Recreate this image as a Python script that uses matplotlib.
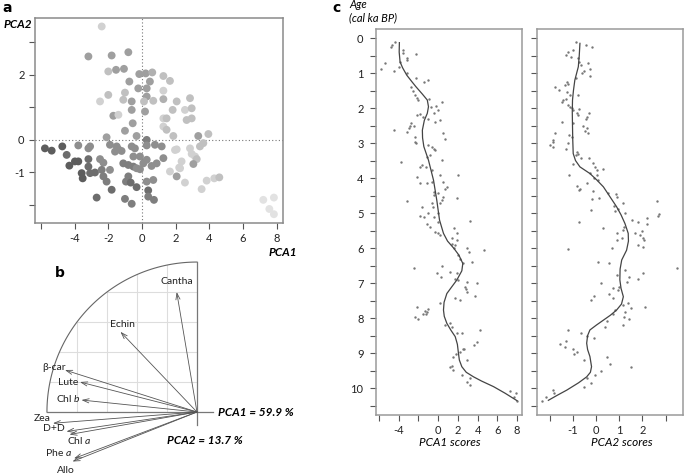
import numpy as np
import matplotlib
matplotlib.use('Agg')
import matplotlib.pyplot as plt

plt.rcParams['font.family'] = ['Lato', 'DejaVu Sans']
plt.rcParams['mathtext.fontset'] = 'custom'
plt.rcParams['mathtext.rm'] = 'Lato'
plt.rcParams['mathtext.it'] = 'Lato:italic'

# ---- panel a: sample scores (PCA1, PCA2) and age class (dark = young, light = old)
a_pca1 = [-2.39, -3.18, -1.80, -0.81, -2.00, -1.54, -1.07, -0.75, -0.16, 0.22, 0.61, 1.27, 1.66,
          0.47, -0.22, 0.28, 1.27, -1.01, -2.00, 0.28, 0.67, 1.27, 2.06, 2.85, -2.49, -1.11, -0.61,
          0.12, -0.61, 0.18, 1.82, 2.55, 2.95, -1.70, -1.40, 1.27, 1.46, 2.65, 2.95, -0.55, 1.27,
          1.46, -1.01, -0.32, -2.10, 3.34, 3.94, 1.86, 0.28, -5.76, -5.36, -4.73, -3.78, -4.47,
          -3.18, -3.08, -1.90, -1.50, -1.40, -1.21, -0.61, -0.42, 0.28, 0.77, 1.17, 2.06, 2.85,
          3.44, 3.64, 2.95, 3.15, 3.25, 3.05, 2.35, -4.31, -3.98, -3.78, -3.18, -2.49, -2.29,
          -3.18, -3.58, -3.52, -3.08, -2.79, -2.39, -2.29, -2.10, -1.90, -1.60, -1.11, -0.81,
          -0.51, -0.32, -0.12, 0.08, 0.28, 0.57, 0.87, 1.27, 1.66, 2.26, 2.06, 2.55, 3.84, 4.29,
          4.59, 3.54, -1.80, -0.95, -0.81, -0.67, -0.32, 0.28, 0.67, 0.37, -2.69, -1.01, -0.61,
          0.37, 0.71, -0.51, -0.12, 7.20, 7.83, 7.56, 7.83, 1.96, 2.21]
a_pca2 = [3.48, 2.56, 2.59, 2.69, 2.10, 2.15, 2.18, 1.79, 2.02, 2.04, 2.07, 1.96, 1.81,
          1.79, 1.58, 1.58, 1.51, 1.45, 1.38, 1.33, 1.20, 1.25, 1.18, 1.28, 1.18, 1.23, 1.18,
          1.18, 0.92, 0.87, 0.92, 0.92, 0.97, 0.74, 0.77, 0.66, 0.66, 0.61, 0.66, 0.51, 0.41,
          0.31, 0.28, 0.12, 0.08, 0.12, 0.18, 0.12, 0.00, -0.26, -0.33, -0.20, -0.17, -0.46,
          -0.26, -0.20, -0.15, -0.20, -0.29, -0.34, -0.20, -0.26, -0.17, -0.15, -0.20, -0.29, -0.26,
          -0.20, -0.10, -0.43, -0.51, -0.59, -0.74, -0.66, -0.79, -0.66, -0.66, -0.59, -0.59, -0.70,
          -0.82, -1.02, -1.18, -1.02, -1.00, -0.92, -1.12, -1.28, -0.92, -0.36, -0.72, -0.77,
          -0.82, -0.87, -0.90, -0.72, -0.61, -0.80, -0.72, -0.56, -0.97, -0.87, -1.12, -1.31, -1.25, -1.18,
          -1.15, -1.51, -1.53, -1.28, -1.12, -1.31, -1.45, -1.28, -1.23, -1.55, -1.77, -1.81, -1.96,
          -1.74, -1.84, -0.51, -0.51, -1.84, -1.77, -2.12, -2.28, -0.31, -0.85]
a_class = [8, 5, 5, 5, 7, 5, 5, 5, 5, 5, 6, 7, 7,
           5, 5, 5, 8, 7, 7, 5, 7, 6, 7, 7, 8, 7, 5,
           7, 5, 5, 7, 8, 7, 5, 8, 8, 7, 7, 7, 5, 8,
           7, 5, 5, 5, 5, 7, 7, 3, 1, 1, 1, 4, 2,
           4, 4, 4, 4, 4, 4, 4, 4, 4, 4, 4, 8, 8,
           7, 7, 8, 8, 7, 5, 8, 1, 1, 1, 2, 4, 4,
           2, 1, 1, 2, 2, 3, 3, 3, 4, 4, 3, 3,
           3, 4, 4, 4, 4, 4, 4, 4, 8, 8, 5, 8, 8, 8,
           7, 8, 2, 3, 3, 2, 2, 4, 4, 2, 2, 3, 3,
           3, 3, 4, 4, 9, 9, 9, 9, 8, 8]

# ---- panel b: variable loadings on the correlation circle
pigments = ['Cantha', 'Echin', 'β-car', 'Lute', 'Chl $\\it{b}$', 'Zea', 'D+D', 'Chl $\\it{a}$',
            'Phe $\\it{a}$', 'Allo']
load1 = [-0.135, -0.51, -0.88, -0.78, -0.77, -0.96, -0.87, -0.85, -0.82, -0.83]
load2 = [0.80, 0.535, 0.28, 0.20, 0.08, -0.075, -0.13, -0.15, -0.31, -0.33]

# ---- panel c: PCA1 scores vs age
c1_score = [-4.37, -4.70, -4.81, -3.59, -3.52, -3.18, -3.11, -2.23, -5.38, -5.82, -3.86, -3.99,
            -4.43, -3.11, -2.23, -1.42, -0.98, -2.77, -2.50, -2.33, -2.17, -2.00, -0.88, 0.37,
            -0.20, -0.71, 0.03, -2.10, -1.83, -1.49, -1.05, -0.41, 0.20, -0.30, -2.77, -2.84,
            -2.91, -2.44, -4.43, -3.18, -2.33, -2.33, 0.54, 0.71, -2.23, -0.98, -0.64, -0.47,
            -0.30, -0.81, 0.37, -1.15, -3.79, -1.83, -1.59, -1.25, -0.64, 0.14, -2.17, 2.06,
            -0.64, -1.15, -1.83, 0.54, 0.88, 0.71, -0.41, 0.03, -0.47, 0.54, 0.37, 1.90, -3.18,
            -0.64, 0.20, -0.54, -1.66, -0.98, 0.03, -1.83, -1.42, -0.47, 0.03, 3.25, -1.08, -0.81,
            1.56,
            -0.30, 0.03, 0.20, 1.90, 1.39, 1.90, 1.39, 1.73, 1.56, 2.06, 2.91, 3.08, 4.60, 2.23,
            3.42, 2.50, -2.44, 0.37, 1.22, 1.90, -0.07, 0.27, 1.73, 2.06, 2.91, 3.93, 2.74, 2.84,
            2.91, 3.76, 1.73, 2.23, 0.20, -2.10, -0.98, -1.32, -1.08, -1.49, -1.22, -2.33, -2.00,
            1.22, 0.68, 1.39, 1.90, 2.40, 4.26, 3.93, 3.59, 2.50, 2.64, 2.23, 1.83, 1.49, 2.91,
            1.39, 1.22, 1.49, 2.40, 2.91, 3.18, 3.25, 7.31, 7.92, 7.65, 7.99]
c1_age = [0.12, 0.20, 0.25, 0.34, 0.42, 0.58, 0.63, 0.46, 0.72, 0.87, 0.68, 0.82,
          0.94, 1.01, 1.13, 1.25, 1.20, 1.41, 1.50, 1.63, 1.72, 1.77, 1.75, 1.84,
          1.94, 1.98, 2.06, 2.20, 2.17, 2.25, 2.30, 2.15, 2.34, 2.39, 2.44, 2.51,
          2.58, 2.51, 2.63, 2.68, 2.82, 2.96, 2.72, 2.87, 3.01, 3.06, 3.10, 3.16,
          3.20, 3.34, 3.49, 3.39, 3.55, 3.68, 3.63, 3.68, 3.77, 3.91, 3.96, 3.91,
          4.10, 4.15, 4.13, 4.10, 4.25, 4.30, 4.39, 4.44, 4.49, 4.53, 4.63, 4.58, 4.66,
          4.70, 4.72, 4.82, 4.82, 5.01, 5.01, 5.09, 5.12, 5.10, 5.25, 5.23, 5.31, 5.39,
          5.44,
          5.53, 5.58, 5.63, 5.58, 5.72, 5.77, 5.87, 5.91, 6.01, 6.20, 6.01, 6.10, 6.06, 6.30,
          6.39, 6.44, 6.58, 6.51, 6.68, 6.72, 6.70, 6.82, 6.87, 6.91, 6.98, 7.01, 7.12, 7.18,
          7.25, 7.37, 7.42, 7.49, 7.56, 7.68, 7.74, 7.79, 7.82, 7.87, 7.89, 7.97, 8.04,
          8.15, 8.20, 8.25, 8.44, 8.44, 8.34, 8.68, 8.77, 8.87, 8.89, 8.96, 9.03, 9.10, 9.20,
          9.37, 9.41, 9.49, 9.63, 9.82, 9.91, 9.72, 10.08, 10.15, 10.25, 10.36]
c1_fit_age = [0.13, 0.40, 0.68, 0.85, 1.06, 1.25, 1.39, 1.60, 1.77, 1.96, 2.15, 2.35, 2.63, 2.85,
              3.10, 3.49, 4.06, 4.63, 5.20, 5.58, 5.80, 6.01, 6.20, 6.44, 6.65, 6.91, 7.10, 7.30,
              7.55, 7.77, 7.95, 8.15, 8.35, 8.53, 8.75, 9.01, 9.20, 9.39, 9.55, 9.68, 9.80, 9.96,
              10.15, 10.36]
c1_fit = [-3.93, -3.95, -3.86, -3.60, -3.18, -2.65, -2.25, -1.60, -1.10, -0.98, -1.10, -1.40,
          -1.60, -1.58, -1.45, -0.98, -0.47, -0.14, 0.14, 0.54, 0.95, 1.60, 2.10, 2.50, 2.40,
          1.90, 1.40, 0.88, 0.60, 0.54, 0.62, 0.88, 1.30, 1.73, 1.95, 2.06, 2.15, 2.40, 2.85,
          3.59, 4.40, 5.62, 6.80, 7.99]

# ---- panel c: PCA2 scores vs age
c2_score = [-0.86, -0.43, -0.19, -1.01, -1.19, -1.29, -1.09, -0.76, -0.72, -0.33, -0.66, -0.26,
            -0.52, -0.62, -0.26, -0.86, -1.26, -1.19, -1.34, -1.77, -1.58, -1.26, -1.12, -0.76,
            -1.29, -1.41, -1.48, -1.19, -1.12, -1.05, -0.98, -0.72, -0.83, -0.76, -0.29, -0.37,
            -0.43, -1.48, -0.98, -0.55, -0.37, -0.47, -0.33, -1.77, -1.15, -1.05, -1.84, -1.87,
            -1.98, -1.87, -1.19, -1.29, -0.83, -0.76, -0.86, -0.66, -0.29, -0.98, -0.11, -0.04,
            0.06, 0.29, -0.26, 0.03, -0.09, 0.10, -1.18, -0.83, -0.69, -0.73, -0.37, -0.11, 0.53,
            0.86, 0.89, -0.19, 0.14, 1.18, 2.61, 0.78, 0.96, 0.82, -0.23, 1.25, 2.73, 2.69, 2.18,
            1.54, 1.82, 2.18, -0.72, 0.32, 1.21, 1.18, 1.97, 1.68, 1.90, 0.89, 2.04, 2.07, 1.11,
            0.89, 1.82, 2.01, 0.68, -1.19,
            0.10, 0.57, 3.51, 1.25, 2.04, 1.44, 1.82, 0.89, 1.32, 0.20, 0.75, 1.01, 0.96, 0.57,
            0.75, -0.09, -0.23, 1.39, 1.18, 1.53, 2.11, 0.82, 0.75, 1.25, 1.21, 1.44, 0.46, 1.15,
            0.39, -1.19, -0.66, -0.37, -0.09, -1.29, -1.55, -1.34, -1.01, -0.83, -0.93, -0.52,
            0.46, 0.60, 1.49, 0.20, -0.04, -0.37, -0.23, -0.52, -1.87, -1.80, -2.16, -2.33]
c2_age = [0.12, 0.20, 0.25, 0.34, 0.39, 0.47, 0.53, 0.58, 0.68, 0.72, 0.77, 0.87,
          0.93, 1.01, 1.09, 1.15, 1.25, 1.30, 1.34, 1.41, 1.49, 1.53, 1.63, 1.63,
          1.75, 1.77, 1.84, 1.91, 1.96, 2.01, 2.06, 2.04, 2.15, 2.20, 2.15, 2.25,
          2.30, 2.39, 2.44, 2.51, 2.58, 2.65, 2.70, 2.72, 2.77, 2.82, 2.90, 2.96,
          3.06, 3.12, 3.01, 3.18, 3.25, 3.30, 3.34, 3.44, 3.44, 3.61, 3.58, 3.68,
          3.77, 3.75, 3.85, 3.91, 4.01, 4.06, 3.91, 4.23, 4.30, 4.34, 4.15, 4.36, 4.42,
          4.46, 4.53, 4.61, 4.58, 4.70, 4.66, 4.80, 4.87, 4.93, 4.90, 5.01, 5.03, 5.09, 5.15,
          5.20, 5.25, 5.32, 5.25, 5.44, 5.39, 5.47, 5.50, 5.58, 5.63, 5.58, 5.72, 5.77, 5.72,
          5.77, 5.91, 5.96, 6.01, 6.04,
          6.39, 6.44, 6.56, 6.63, 6.70, 6.82, 6.89, 6.77, 6.96, 7.01, 7.15, 7.10, 7.20, 7.31,
          7.42, 7.37, 7.49, 7.56, 7.62, 7.72, 7.67, 7.77, 7.87, 7.82, 7.97, 8.04, 8.08, 8.20,
          8.25, 8.34, 8.42, 8.51, 8.58, 8.65, 8.74, 8.82, 8.87, 8.96, 9.03, 9.20,
          9.12, 9.31, 9.41, 9.51, 9.63, 9.72, 9.85, 9.96, 10.06, 10.15, 10.25, 10.36]
c2_fit_age = [0.15, 0.50, 0.82, 1.20, 1.50, 1.77, 2.10, 2.53, 2.90, 3.30, 3.50, 3.68, 3.87,
              4.05, 4.25, 4.55, 4.82, 5.05, 5.30, 5.58, 5.80, 6.06, 6.34, 6.60, 6.91, 7.15,
              7.39, 7.60, 7.77, 7.92, 8.06, 8.20, 8.34, 8.50, 8.72, 8.90, 9.10, 9.39, 9.55,
              9.68, 9.85, 10.06, 10.20, 10.35]
c2_fit = [-0.69, -0.72, -0.76, -0.91, -0.97, -1.01, -1.02, -1.01, -1.00, -0.98, -0.88, -0.69,
          -0.26, 0.03, 0.32, 0.62, 0.89, 1.08, 1.25, 1.39, 1.40, 1.32, 1.11, 1.04, 1.03, 1.08,
          1.18, 1.10, 0.89, 0.62, 0.32, 0.02, -0.26, -0.36, -0.40, -0.36, -0.26, -0.19, -0.24,
          -0.40, -0.75, -1.26, -1.65, -2.05]

W, H = 685, 475
fig = plt.figure(figsize=(W / 100, H / 100), dpi=100)


def px_axes(left, top, right, bottom):
    return fig.add_axes([left / W, 1 - bottom / H, (right - left) / W, (bottom - top) / H])


def style_frame(ax, color):
    for sp in ax.spines.values():
        sp.set_color(color)
        sp.set_linewidth(1.1)
    ax.tick_params(colors='#555555', labelcolor='#222222', labelsize=8, length=4, width=0.8)


# ---- a
ax = px_axes(35, 18, 283, 223)
style_frame(ax, '#8a8a8a')
ax.scatter(a_pca1, a_pca2, c=a_class, cmap='gray', vmin=-4.6, vmax=10.8, s=32, linewidths=0, zorder=3)
ax.axhline(0, color='#777777', lw=0.8, ls=(0, (1, 2)), zorder=1)
ax.axvline(0, color='#777777', lw=0.8, ls=(0, (1, 2)), zorder=1)
ax.set_xlim(-6.35, 8.37)
ax.set_ylim(-2.55, 3.74)
ax.set_xticks(range(-6, 9, 2))
ax.set_xticklabels(['', '-4', '-2', '0', '2', '4', '6', '8'])
ax.set_yticks(range(-2, 4))
ax.set_yticklabels(['', '-1', '0', '', '2', ''])
fig.text(2 / W, 1 - 8 / H, 'a', fontsize=10, fontweight='bold', family='DejaVu Sans', va='center')
fig.text(4 / W, 1 - 25 / H, 'PCA2', fontsize=8.5, fontweight='bold', style='italic', va='center')
fig.text(297 / W, 1 - 252 / H, 'PCA1', fontsize=8.5, fontweight='bold', style='italic',
         va='center', ha='right')

# ---- b
bx = fig.add_axes([30 / W, 0, 270 / W, 220 / H])
bx.set_xlim(-1.113, 0.687)
bx.set_ylim(-0.42, 1.047)
bx.axis('off')
for g in [0.2, 0.4, 0.6, 0.8]:
    bx.plot([-g, -g], [0, np.sqrt(1 - g * g)], color='#dddddd', lw=0.8)
    bx.plot([-np.sqrt(1 - g * g), 0], [g, g], color='#dddddd', lw=0.8)
theta = np.linspace(np.pi / 2, np.pi, 120)
bx.plot(np.cos(theta), np.sin(theta), color='#666666', lw=0.8)
bx.plot([-1, 0.107], [0, 0], color='#777777', lw=0.9)
bx.plot([0, 0], [-0.087, 1.0], color='#777777', lw=0.9)

label_place = {
    'Cantha': (0.0, 0.07, 'center', 'center'),
    'Echin': (0.01, 0.05, 'center', 'center'),
    'β-car': (0.005, 0.015, 'right', 'center'),
    'Lute': (-0.01, -0.005, 'right', 'center'),
    'Chl $\\it{b}$': (-0.005, 0.01, 'right', 'center'),
    'Zea': (-0.015, 0.035, 'right', 'center'),
    'D+D': (-0.01, 0.017, 'right', 'center'),
    'Chl $\\it{a}$': (-0.017, -0.037, 'left', 'center'),
    'Phe $\\it{a}$': (-0.013, 0.037, 'right', 'center'),
    'Allo': (-0.043, -0.057, 'center', 'center'),
}
for name, lx, ly in zip(pigments, load1, load2):
    bx.annotate('', xy=(lx, ly), xytext=(0, 0),
                arrowprops=dict(arrowstyle='->,head_length=0.45,head_width=0.15',
                                lw=0.6, color='#555555', shrinkA=0, shrinkB=0))
    dx, dy, ha, va = label_place[name]
    bx.text(lx + dx, ly + dy, name, fontsize=7.5, ha=ha, va=va, color='#222222')
bx.text(0.14, 0, 'PCA1 = 59.9 %', fontsize=8.5, fontweight='bold', style='italic', va='center')
bx.text(-0.2, -0.187, 'PCA2 = 13.7 %', fontsize=8.5, fontweight='bold', style='italic', va='center')
bx.text(-0.95, 0.93, 'b', fontsize=10, fontweight='bold', family='DejaVu Sans', va='center')

# ---- c
for left, right, xs, ys, fx, fy, xl, ticks, tlabels, ylabels, xlab, xlab_x in [
    (376, 522, c1_score, c1_age, c1_fit, c1_fit_age, (-6.3, 8.5), range(-6, 9, 2),
     ['', '-4', '', '0', '2', '4', '6', '8'], True, 'PCA1 scores', 450),
    (537, 683, c2_score, c2_age, c2_fit, c2_fit_age, (-2.54, 3.75), range(-2, 4),
     ['', '-1', '0', '1', '2', ''], False, 'PCA2 scores', 622),
]:
    cx = px_axes(left, 29, right, 415)
    style_frame(cx, '#9a9a9a')
    cx.scatter(xs, ys, s=3, color='#777777', linewidths=0, zorder=2)
    cx.plot(fx, fy, color='#444444', lw=0.9, zorder=3)
    cx.set_xlim(*xl)
    cx.set_ylim(10.77, -0.26)
    cx.set_xticks(list(ticks))
    cx.set_xticklabels(tlabels)
    cx.set_yticks(np.arange(0, 10.6, 0.5))
    if ylabels:
        cx.set_yticklabels([str(int(v)) if v == int(v) else '' for v in np.arange(0, 10.6, 0.5)])
    else:
        cx.set_yticklabels([])
    cx.tick_params(axis='y', pad=5)
    fig.text(xlab_x / W, 1 - 443 / H, xlab, fontsize=8.5, style='italic',
             ha='center', va='center')

fig.text(332 / W, 1 - 8 / H, 'c', fontsize=10, fontweight='bold', family='DejaVu Sans', va='center')
fig.text(349 / W, 1 - 5 / H, 'Age', fontsize=8, style='italic', va='center')
fig.text(349 / W, 1 - 18 / H, '(cal ka BP)', fontsize=8, style='italic', va='center')

fig.savefig('out.png', dpi=100)
